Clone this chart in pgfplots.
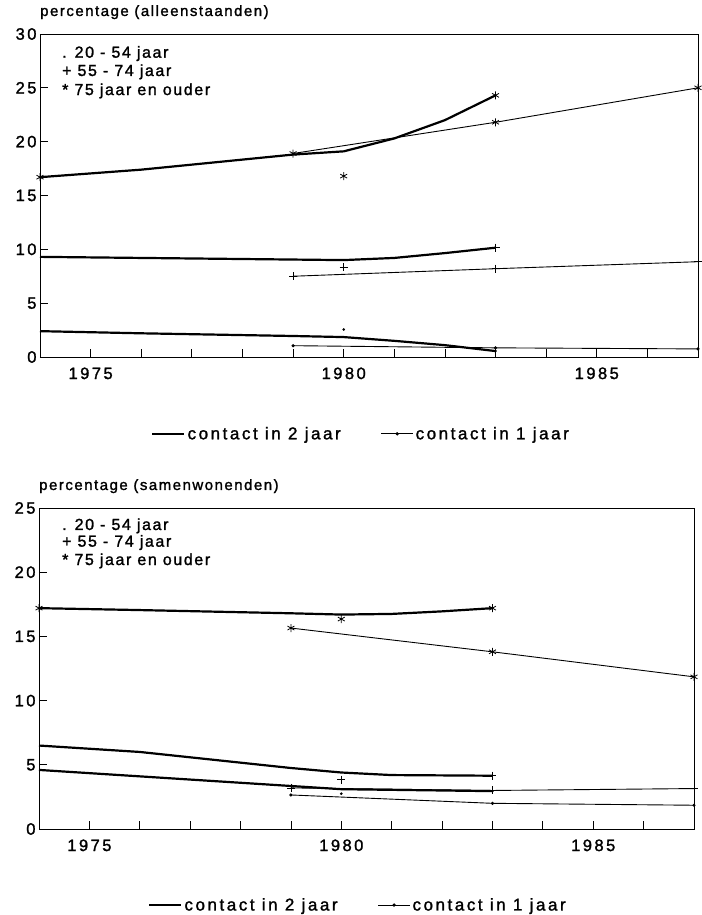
\documentclass[border=0pt]{standalone}
\usepackage{fontspec}
\setmainfont{Liberation Sans}[LetterSpace=10, FakeBold=1.5]
\newfontfamily\wide{Liberation Sans}[LetterSpace=15, FakeBold=1.5]
\usepackage{pgfplots}
\pgfplotsset{compat=1.18}
\pgfplotsset{
  mystyle/.style={
    scale only axis,
    xmin=1974, xmax=1987,
    tick pos=left, tick align=inside,
    xtick={1975,1980,1985}, xticklabels={1975,1980,1985},
    minor xtick={1976,1977,1978,1979,1981,1982,1983,1984,1986},
    major tick length=8pt, minor tick length=8pt,
    every tick/.style={black, line width=0.8pt},
    /pgf/number format/assume math mode=true,
    tick label style={font=\wide\fontsize{16.5}{16.5}\selectfont},
    x tick label style={yshift=-7pt},
    axis line style={line width=0.9pt},
    title style={at={(0,1)}, anchor=base west, yshift=12pt, font=\fontsize{15}{15}\selectfont, inner sep=0pt},
    legend style={draw=none, anchor=center, legend columns=2, font=\wide\fontsize{17}{17}\selectfont,
      /tikz/every even column/.append style={column sep=38pt}},
    legend image code/.code={\draw[mark repeat=2,mark phase=2,##1] plot coordinates {(0pt,0pt) (16pt,0pt) (32pt,0pt)};},
  },
  thickline/.style={black, line width=2.2pt, no marks},
  thinline/.style={black, line width=0.9pt},
  m20/.style={mark=*, mark size=1.1pt},
  m55/.style={mark=+, mark size=4pt, mark options={line width=0.8pt}},
  m75/.style={mark=asterisk, mark size=4pt, mark options={line width=0.8pt}},
}
\tikzset{inleg/.style={anchor=base west, font=\fontsize{16}{16}\selectfont, inner sep=0pt}}
\begin{document}
\begin{tikzpicture}[x=1pt,y=1pt]
\useasboundingbox (0,0) rectangle (701,915);
% ---------------- top chart ----------------
\begin{axis}[mystyle, at={(40pt,558pt)}, anchor=south west, width=658pt, height=323pt,
  ymin=0, ymax=30, ytick={0,5,...,30},
  title={percentage (alleenstaanden)},
  legend style={at={(0.488,-0.238)}}]
\addlegendimage{black, line width=2.2pt}
\addlegendimage{black, line width=0.9pt, mark=*, mark size=1.2pt}
\legend{contact in 2 jaar, contact in 1 jaar}
% 75+
\addplot[thickline] coordinates {(1974,16.7) (1976,17.4) (1979,18.8) (1980,19.1) (1981,20.3) (1982,22.0) (1983,24.3)};
\addplot[only marks, m75] coordinates {(1974,16.7) (1983,24.3)};
\addplot[thinline, m75] coordinates {(1979,18.9) (1983,21.8) (1987,25.0)};
\addplot[only marks, m75] coordinates {(1980,16.8)};
% 55-74
\addplot[thickline] coordinates {(1974,9.3) (1976,9.2) (1979,9.05) (1980,9.0) (1981,9.2) (1982,9.65) (1983,10.15)};
\addplot[only marks, m55] coordinates {(1983,10.15)};
\addplot[thinline, m55] coordinates {(1979,7.5) (1983,8.2) (1987,8.85)};
\addplot[only marks, m55] coordinates {(1980,8.35)};
% 20-54
\addplot[thickline] coordinates {(1974,2.4) (1976,2.2) (1979,1.95) (1980,1.85) (1981,1.5) (1982,1.1) (1983,0.55)};
\addplot[only marks, m20] coordinates {(1983,0.55)};
\addplot[thinline, m20] coordinates {(1979,1.05) (1983,0.85) (1987,0.75)};
\addplot[only marks, m20] coordinates {(1980,2.55)};
\node[inleg] at (axis description cs:0.0334,0.9266) {. 20 - 54 jaar};
\node[inleg] at (axis description cs:0.0334,0.870) {+ 55 - 74 jaar};
\node[inleg] at (axis description cs:0.0334,0.811) {* 75 jaar en ouder};
\end{axis}
% ---------------- bottom chart ----------------
\begin{axis}[mystyle, at={(39pt,86pt)}, anchor=south west, width=655pt, height=321pt,
  ymin=0, ymax=25, ytick={0,5,...,25},
  title={percentage (samenwonenden)},
  legend style={at={(0.487,-0.237)}}]
\addlegendimage{black, line width=2.2pt}
\addlegendimage{black, line width=0.9pt, mark=*, mark size=1.2pt}
\legend{contact in 2 jaar, contact in 1 jaar}
% 75+
\addplot[thickline] coordinates {(1974,17.2) (1976,17.05) (1979,16.8) (1980,16.7) (1981,16.75) (1982,16.95) (1983,17.2)};
\addplot[only marks, m75] coordinates {(1974,17.2) (1983,17.2)};
\addplot[thinline, m75] coordinates {(1979,15.65) (1983,13.8) (1987,11.85)};
\addplot[only marks, m75] coordinates {(1980,16.35)};
% 55-74
\addplot[thickline] coordinates {(1974,6.5) (1976,6.0) (1979,4.75) (1980,4.4) (1981,4.2) (1983,4.15)};
\addplot[only marks, m55] coordinates {(1983,4.15)};
\addplot[thinline, m55] coordinates {(1979,3.2) (1983,3.0) (1987,3.15)};
\addplot[only marks, m55] coordinates {(1980,3.85)};
% 20-54
\addplot[thickline] coordinates {(1974,4.6) (1976,4.1) (1979,3.35) (1980,3.1) (1983,2.95)};
\addplot[only marks, m20] coordinates {(1983,2.95)};
\addplot[thinline, m20] coordinates {(1979,2.65) (1983,2.0) (1987,1.85)};
\addplot[only marks, m20] coordinates {(1980,2.75)};
\node[inleg] at (axis description cs:0.0351,0.9315) {. 20 - 54 jaar};
\node[inleg] at (axis description cs:0.0351,0.8795) {+ 55 - 74 jaar};
\node[inleg] at (axis description cs:0.0351,0.8224) {* 75 jaar en ouder};
\end{axis}
\end{tikzpicture}
\end{document}
